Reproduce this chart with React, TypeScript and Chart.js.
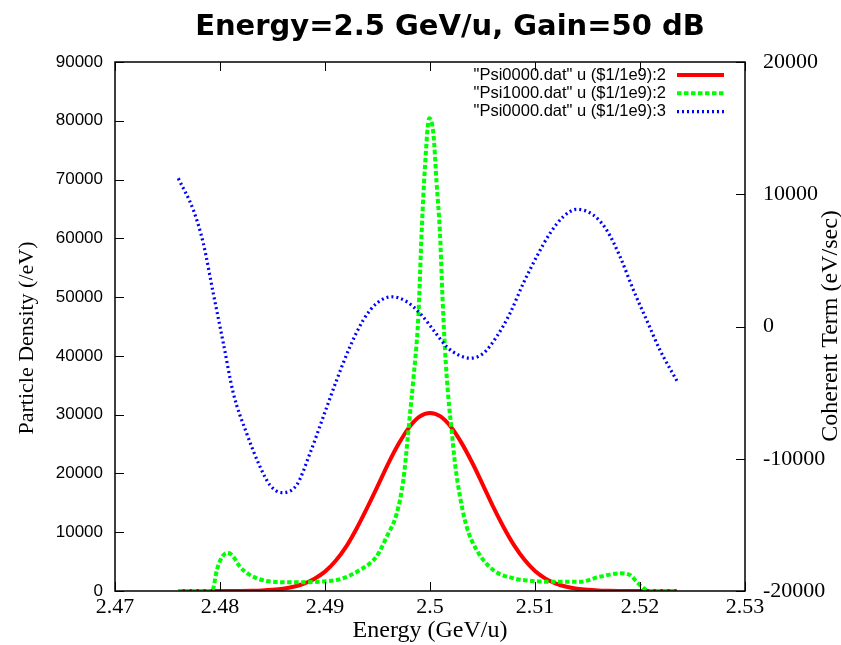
import { useEffect, useRef } from "react";
import { Chart, registerables } from "chart.js";

Chart.register(...registerables);

const chartTitle = "Energy=2.5 GeV/u, Gain=50 dB";
const xAxisTitle = "Energy (GeV/u)";
const yAxisTitle = "Particle Density (/eV)";
const y2AxisTitle = "Coherent Term (eV/sec)";
const seriesLabels = [
  '"Psi0000.dat" u ($1/1e9):2',
  '"Psi1000.dat" u ($1/1e9):2',
  '"Psi0000.dat" u ($1/1e9):3',
];

const xTicks = [2.47, 2.48, 2.49, 2.5, 2.51, 2.52, 2.53];
const yTicks = [0, 10000, 20000, 30000, 40000, 50000, 60000, 70000, 80000, 90000];
const y2Ticks = [-20000, -10000, 0, 10000, 20000];

// Psi0000 particle density (left axis)
const redEnergy = [
  2.476, 2.478, 2.48, 2.482, 2.483, 2.484, 2.485, 2.486, 2.487, 2.488, 2.489, 2.49,
  2.491, 2.492, 2.493, 2.494, 2.495, 2.496, 2.497, 2.498, 2.499, 2.5,
  2.501, 2.502, 2.503, 2.504, 2.505, 2.506, 2.507, 2.508, 2.509, 2.51,
  2.511, 2.512, 2.513, 2.514, 2.515, 2.516, 2.517, 2.518, 2.52, 2.522, 2.5235,
];
const redDensity = [
  0, 0, 5, 20, 50, 100, 210, 400, 720, 1250, 2100, 3300,
  5100, 7500, 10600, 14100, 17800, 21600, 25000, 27800, 29650, 30300,
  29700, 27900, 25200, 21900, 18200, 14400, 10900, 7800, 5300, 3400,
  2100, 1250, 720, 400, 210, 100, 50, 20, 0, 0, 0,
];

// Psi1000 particle density (left axis)
const greenEnergy = [
  2.476, 2.479, 2.4793, 2.4797, 2.4802, 2.4807, 2.4812, 2.4819, 2.4827, 2.4835,
  2.48445, 2.4858, 2.4879, 2.4895, 2.4911, 2.4922, 2.49333, 2.4942, 2.4949, 2.49588,
  2.49683, 2.49746, 2.49785, 2.4981, 2.49841, 2.49889, 2.4992, 2.49952, 2.49993,
  2.50032, 2.50063, 2.50095, 2.5012, 2.50143, 2.50174, 2.50206, 2.50238, 2.50286,
  2.50349, 2.50444, 2.50603, 2.50794, 2.5095, 2.51111, 2.51429, 2.5162, 2.5181,
  2.51905, 2.51968, 2.52016, 2.52063, 2.521, 2.5235,
];
const greenDensity = [
  0, 0, 200, 3570, 5800, 6500, 6000, 4130, 2900, 2160,
  1700, 1500, 1480, 1580, 1870, 2500, 3570, 4600, 5840, 9240,
  13200, 18880, 25500, 30230, 35900, 46670, 60850, 72180, 80420,
  77860, 69360, 60850, 49510, 41000, 33060, 27390, 21720, 16040,
  10940, 6980, 3570, 2160, 1750, 1580, 1580, 2440, 3010,
  2720, 1580, 730, 170, 0, 0,
];

// Psi0000 coherent term (right axis)
const blueEnergy = [
  2.47603, 2.47746, 2.47841, 2.47936, 2.48032, 2.48127, 2.48254, 2.48381, 2.48476,
  2.48587, 2.4873, 2.48857, 2.48984, 2.49111, 2.49238, 2.49365, 2.49492, 2.49635,
  2.49778, 2.49905, 2.50032, 2.50159, 2.5027, 2.50381, 2.50508, 2.50635, 2.50762,
  2.50889, 2.51016, 2.51143, 2.5127, 2.51397, 2.51555, 2.51682, 2.5181, 2.51937,
  2.52063, 2.5219, 2.52365,
];
const blueCoherent = [
  11206, 8810, 6290, 2510, -1270, -5050, -8080, -10600, -11990,
  -12560, -11990, -9590, -6820, -4050, -1530, 490, 1750, 2250,
  1880, 1000, -260, -1530, -2150, -2400, -2030, -770, 1000,
  3270, 5280, 7050, 8300, 8860, 8430, 7300, 5280, 2760,
  490, -1780, -4300,
];

const toPoints = (xs: number[], ys: number[]) => xs.map((x, i) => ({ x, y: ys[i] }));

const decorPlugin = {
  id: "decor",
  afterDraw(chart: any) {
    const { ctx, chartArea, scales } = chart;
    const { left, right, top, bottom } = chartArea;
    ctx.save();
    ctx.strokeStyle = "#000";
    ctx.lineWidth = 1;
    const tl = 9;
    ctx.beginPath();
    xTicks.forEach((v) => {
      const px = Math.round(scales.x.getPixelForValue(v)) + 0.5;
      ctx.moveTo(px, bottom);
      ctx.lineTo(px, bottom - tl);
      ctx.moveTo(px, top);
      ctx.lineTo(px, top + tl);
    });
    yTicks.forEach((v) => {
      const py = Math.round(scales.y.getPixelForValue(v)) + 0.5;
      ctx.moveTo(left, py);
      ctx.lineTo(left + tl, py);
    });
    y2Ticks.forEach((v) => {
      const py = Math.round(scales.y2.getPixelForValue(v)) + 0.5;
      ctx.moveTo(right, py);
      ctx.lineTo(right - tl, py);
    });
    ctx.stroke();
    ctx.lineWidth = 1.5;
    ctx.strokeRect(left, top, right - left, bottom - top);

    ctx.fillStyle = "#000";
    ctx.textAlign = "center";
    ctx.textBaseline = "middle";
    ctx.font = 'bold 29px "DejaVu Sans"';
    ctx.fillText(chartTitle, 450, 27);

    ctx.font = '24px "Liberation Serif"';
    ctx.fillText(xAxisTitle, (left + right) / 2, 631);

    ctx.font = '22px "Liberation Serif"';
    ctx.save();
    ctx.translate(27, 338);
    ctx.rotate(-Math.PI / 2);
    ctx.fillText(yAxisTitle, 0, 0);
    ctx.restore();

    ctx.font = '24px "Liberation Serif"';
    ctx.save();
    ctx.translate(831, 326);
    ctx.rotate(-Math.PI / 2);
    ctx.fillText(y2AxisTitle, 0, 0);
    ctx.restore();

    // legend
    ctx.font = '16.5px "Liberation Sans"';
    ctx.textAlign = "right";
    chart.data.datasets.forEach((ds: any, i: number) => {
      const y = 75 + i * 18.3;
      ctx.fillStyle = "#000";
      ctx.fillText(ds.label, 666, y);
      ctx.save();
      ctx.strokeStyle = ds.borderColor;
      ctx.lineWidth = ds.borderWidth;
      ctx.setLineDash(ds.borderDash || []);
      ctx.beginPath();
      ctx.moveTo(677, y);
      ctx.lineTo(724, y);
      ctx.stroke();
      ctx.restore();
    });
    ctx.restore();
  },
};

export default function App() {
  const canvasRef = useRef<HTMLCanvasElement | null>(null);

  useEffect(() => {
    if (!canvasRef.current) return;
    const chart = new Chart(canvasRef.current, {
      type: "line",
      data: {
        datasets: [
          {
            label: seriesLabels[0],
            data: toPoints(redEnergy, redDensity),
            borderColor: "#ff0000",
            borderWidth: 4,
            borderDash: [],
            pointRadius: 0,
            cubicInterpolationMode: "monotone",
            yAxisID: "y",
            order: 3,
          },
          {
            label: seriesLabels[1],
            data: toPoints(greenEnergy, greenDensity),
            borderColor: "#00ff00",
            borderWidth: 4,
            borderDash: [4.5, 2.5],
            pointRadius: 0,
            cubicInterpolationMode: "monotone",
            yAxisID: "y",
            order: 2,
          },
          {
            label: seriesLabels[2],
            data: toPoints(blueEnergy, blueCoherent),
            borderColor: "#0000ff",
            borderWidth: 3.2,
            borderDash: [2, 3],
            pointRadius: 0,
            cubicInterpolationMode: "monotone",
            yAxisID: "y2",
            order: 1,
          },
        ],
      },
      options: {
        animation: false,
        responsive: false,
        devicePixelRatio: 1,
        layout: { padding: { top: 62, left: 0, right: 0, bottom: 0 } },
        plugins: {
          legend: { display: false },
          title: { display: false },
          tooltip: { enabled: false },
        },
        scales: {
          x: {
            type: "linear",
            position: "bottom",
            min: 2.47,
            max: 2.53,
            afterBuildTicks: (s: any) => {
              s.ticks = xTicks.map((value) => ({ value }));
            },
            afterFit: (s: any) => {
              s.height = 54;
            },
            grid: { display: false, drawTicks: false },
            border: { display: false },
            ticks: {
              autoSkip: false,
              maxRotation: 0,
              padding: 3,
              color: "#000",
              font: { family: "Liberation Serif", size: 22 },
              callback: (v: any) => String(v),
            },
          },
          y: {
            type: "linear",
            position: "left",
            min: 0,
            max: 90000,
            afterBuildTicks: (s: any) => {
              s.ticks = yTicks.map((value) => ({ value }));
            },
            afterFit: (s: any) => {
              s.width = 115;
            },
            grid: { display: false, drawTicks: false },
            border: { display: false },
            ticks: {
              autoSkip: false,
              padding: 12,
              color: "#000",
              font: { family: "Liberation Sans", size: 17 },
              callback: (v: any) => String(v),
            },
          },
          y2: {
            type: "linear",
            position: "right",
            min: -20000,
            max: 20000,
            afterBuildTicks: (s: any) => {
              s.ticks = y2Ticks.map((value) => ({ value }));
            },
            afterFit: (s: any) => {
              s.width = 96;
            },
            grid: { display: false, drawTicks: false },
            border: { display: false },
            ticks: {
              autoSkip: false,
              padding: 18,
              color: "#000",
              font: { family: "Liberation Serif", size: 22 },
              callback: (v: any) => String(v),
            },
          },
        },
      },
      plugins: [decorPlugin],
    } as any);
    return () => chart.destroy();
  }, []);

  return (
    <div style={{ position: "absolute", left: 0, top: 0, width: 841, height: 645, background: "#fff" }}>
      <canvas ref={canvasRef} width={841} height={645} style={{ width: 841, height: 645, display: "block" }} />
    </div>
  );
}
